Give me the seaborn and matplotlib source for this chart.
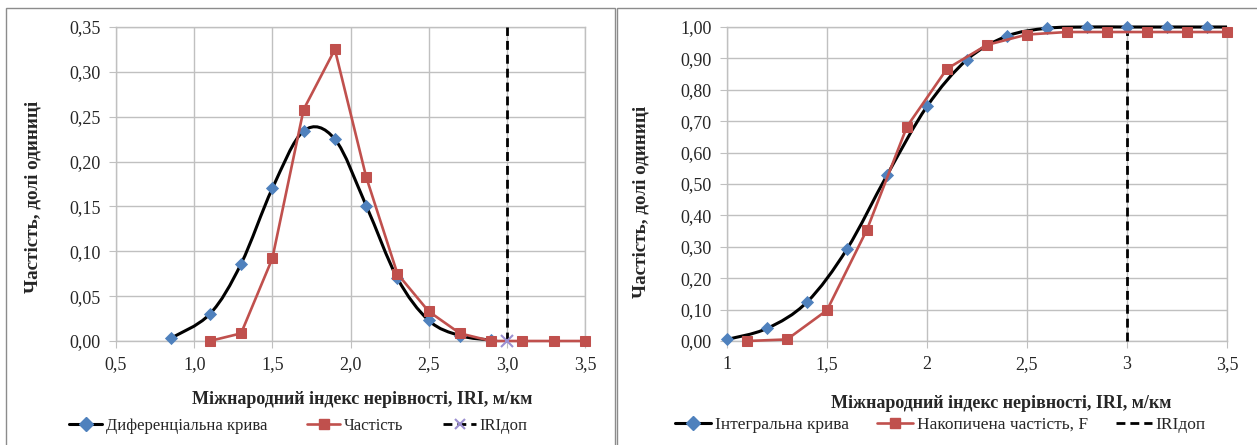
import numpy as np
import matplotlib
matplotlib.use("Agg")
import matplotlib.pyplot as plt
import seaborn as sns
from matplotlib.path import Path
from matplotlib.patches import PathPatch, Rectangle
from matplotlib.lines import Line2D

# left chart: differential curve and frequency
diff_x = [0.85, 1.1, 1.3, 1.5, 1.7, 1.9, 2.1, 2.3, 2.5, 2.7, 2.9]
diff_y = [0.003, 0.030, 0.086, 0.170, 0.234, 0.225, 0.151, 0.070, 0.023, 0.006, 0.001]
freq_x = [1.1, 1.3, 1.5, 1.7, 1.9, 2.1, 2.3, 2.5, 2.7, 2.9, 3.1, 3.3, 3.5]
freq_y = [0.0, 0.0085, 0.092, 0.258, 0.325, 0.183, 0.075, 0.033, 0.0085, 0.0, 0.0, 0.0, 0.0]

# right chart: integral curve and cumulative frequency
int_x = [1.0, 1.2, 1.4, 1.6, 1.8, 2.0, 2.2, 2.4, 2.6, 2.8, 3.0, 3.2, 3.4, 3.5]
int_y = [0.005, 0.040, 0.124, 0.293, 0.528, 0.747, 0.896, 0.971, 0.996, 1.0, 1.0, 1.0, 1.0, 1.0]
cum_x = [1.1, 1.3, 1.5, 1.7, 1.9, 2.1, 2.3, 2.5, 2.7, 2.9, 3.1, 3.3, 3.5]
cum_y = [0.0, 0.005, 0.098, 0.355, 0.683, 0.867, 0.943, 0.976, 0.984, 0.984, 0.984, 0.984, 0.984]

iri_limit = 3.0

left_xticks = [0.5, 1.0, 1.5, 2.0, 2.5, 3.0, 3.5]
left_xlabels = ["0,5", "1,0", "1,5", "2,0", "2,5", "3,0", "3,5"]
left_yticks = [0.0, 0.05, 0.10, 0.15, 0.20, 0.25, 0.30, 0.35]
left_ylabels = ["0,00", "0,05", "0,10", "0,15", "0,20", "0,25", "0,30", "0,35"]
right_xticks = [1.0, 1.5, 2.0, 2.5, 3.0, 3.5]
right_xlabels = ["1", "1,5", "2", "2,5", "3", "3,5"]
right_yticks = [i / 10 for i in range(11)]
right_ylabels = ["0,00", "0,10", "0,20", "0,30", "0,40", "0,50", "0,60", "0,70", "0,80", "0,90", "1,00"]

xlabel = "Міжнародний індекс нерівності, IRI, м/км"
ylabel = "Частість, долі одиниці"

BLUE = "#4F81BD"
RED = "#C0504D"
GRID = "#c0c0c0"
XMARK = "#9b8fd0"
DASH = (0, (3.2, 1.8))

sns.set_style("white")
plt.rcParams["font.family"] = ["Liberation Serif", "DejaVu Serif"]

W, H = 1257, 445
fig = plt.figure(figsize=(W / 100, H / 100), dpi=100)


def px_rect(x0, y0, x1, y1):
    return [x0 / W, 1 - y1 / H, (x1 - x0) / W, (y1 - y0) / H]


def smooth_path(x, y):
    # Excel-like smoothed line: cubic bezier segments through the points
    pts = np.column_stack([x, y]).astype(float)
    n = len(pts)
    verts = [pts[0]]
    codes = [Path.MOVETO]
    for i in range(n - 1):
        p0 = pts[max(i - 1, 0)]
        p1, p2 = pts[i], pts[i + 1]
        p3 = pts[min(i + 2, n - 1)]
        verts += [p1 + (p2 - p0) / 6, p2 - (p3 - p1) / 6, p2]
        codes += [Path.CURVE4] * 3
    return Path(verts, codes)


def style_axes(ax, xticks, xlabels, yticks, ylabels, xlim, ylim):
    ax.set_xlim(*xlim)
    ax.set_ylim(*ylim)
    ax.set_xticks(xticks)
    ax.set_xticklabels(xlabels)
    ax.set_yticks(yticks)
    ax.set_yticklabels(ylabels)
    ax.grid(True, color=GRID, lw=1)
    for s in ax.spines.values():
        s.set_color(GRID)
        s.set_linewidth(1)
    ax.tick_params(axis="both", direction="out", length=5, color=GRID,
                   labelsize=13, pad=6, left=True, bottom=True)
    ax.set_xlabel("")
    ax.set_ylabel("")


# panel borders
fig.add_artist(Rectangle((6 / W, -0.05), (615 - 6) / W, 1.05 - 8 / H,
                         transform=fig.transFigure, fill=False, ec="#8c8c8c", lw=1))
fig.add_artist(Rectangle((617 / W, -0.05), 0.6, 1.05 - 8 / H,
                         transform=fig.transFigure, fill=False, ec="#8c8c8c", lw=1))

# ---------- left chart ----------
ax1 = fig.add_axes(px_rect(116, 27, 585, 341))
ax1.add_patch(PathPatch(smooth_path(diff_x, diff_y), fc="none", ec="black", lw=2.2, zorder=3))
sns.scatterplot(x=diff_x, y=diff_y, marker="D", color=BLUE, s=45, edgecolor=BLUE,
                linewidth=0, zorder=4, ax=ax1)
ax1.plot([iri_limit, iri_limit], [0, 0.35], color="black", lw=2, ls=DASH, zorder=3)
ax1.plot([iri_limit], [0], marker="x", color=XMARK, ms=8, mew=1.5, zorder=6)
sns.lineplot(x=freq_x, y=freq_y, color=RED, lw=1.9, marker="s", markersize=7,
             markeredgecolor=RED, zorder=5, ax=ax1)
style_axes(ax1, left_xticks, left_xlabels, left_yticks, left_ylabels, (0.5, 3.5), (0, 0.35))

# ---------- right chart ----------
ax2 = fig.add_axes(px_rect(727, 27, 1227, 341))
ax2.add_patch(PathPatch(smooth_path(int_x, int_y), fc="none", ec="black", lw=2.2, zorder=3))
sns.scatterplot(x=int_x[:-1], y=int_y[:-1], marker="D", color=BLUE, s=45, edgecolor=BLUE,
                linewidth=0, zorder=4, ax=ax2)
ax2.plot([iri_limit, iri_limit], [0, 1.0], color="black", lw=2, ls=DASH, zorder=3)
sns.lineplot(x=cum_x, y=cum_y, color=RED, lw=1.9, marker="s", markersize=7,
             markeredgecolor=RED, zorder=5, ax=ax2)
style_axes(ax2, right_xticks, right_xlabels, right_yticks, right_ylabels, (1.0, 3.5), (0, 1.0))

for ax in (ax1, ax2):
    for c in ax.collections + ax.lines + ax.patches:
        c.set_clip_on(False)

# axis titles
fig.text(362 / W, 1 - 400 / H, xlabel, ha="center", va="center", fontsize=13, fontweight="bold")
fig.text(1001 / W, 1 - 403 / H, xlabel, ha="center", va="center", fontsize=13, fontweight="bold")
fig.text(33 / W, 1 - 197 / H, ylabel, ha="center", va="center", rotation=90, fontsize=13.8, fontweight="bold")
fig.text(641 / W, 1 - 202 / H, ylabel, ha="center", va="center", rotation=90, fontsize=13.8, fontweight="bold")

# legends
def make_handles(with_x):
    h1 = Line2D([], [], color="black", lw=2.2, marker="D", mfc=BLUE, mec=BLUE, ms=7)
    h2 = Line2D([], [], color=RED, lw=1.9, marker="s", mfc=RED, mec=RED, ms=7)
    if with_x:
        h3 = Line2D([], [], color="black", lw=2, ls=DASH, marker="x", mec=XMARK, ms=7, mew=1.5)
    else:
        h3 = Line2D([], [], color="black", lw=2, ls=DASH)
    return [h1, h2, h3]


fig.legend(make_handles(True), ["Диференціальна крива", "Частість", "IRIдоп"],
           loc="center left", bbox_to_anchor=(69 / W, 1 - 426 / H), ncol=3, frameon=False,
           handlelength=2.0, handletextpad=0.2, columnspacing=2.4, borderpad=0,
           borderaxespad=0, prop={"size": 12})
fig.legend(make_handles(False), ["Інтегральна крива", "Накопичена частість, F", "IRIдоп"],
           loc="center left", bbox_to_anchor=(675 / W, 1 - 425 / H), ncol=3, frameon=False,
           handlelength=2.1, handletextpad=0.2, columnspacing=1.6, borderpad=0,
           borderaxespad=0, prop={"size": 12.5})

fig.savefig("out.png", dpi=100)
